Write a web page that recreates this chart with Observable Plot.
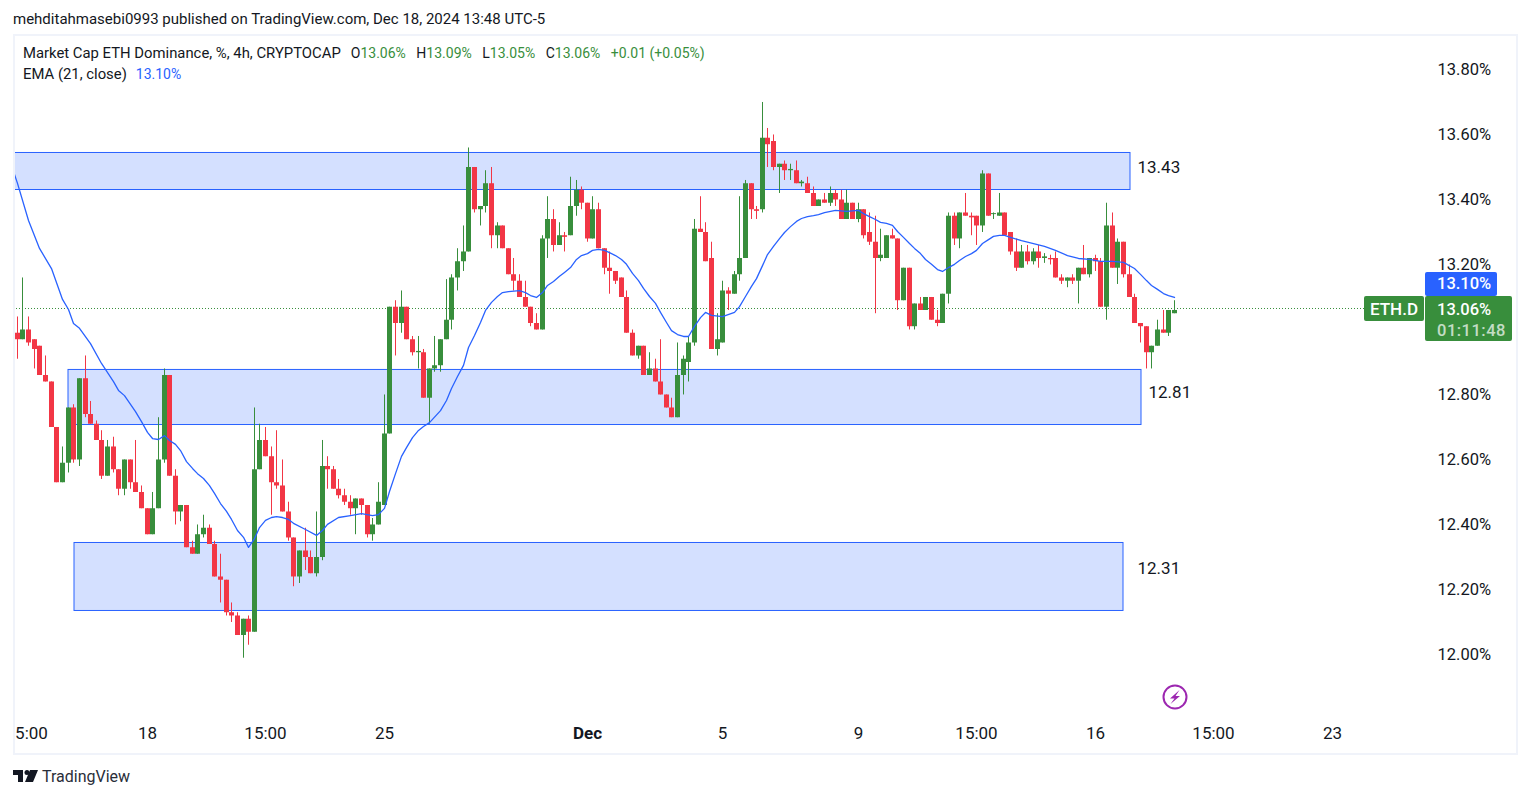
<!DOCTYPE html>
<html><head><meta charset="utf-8">
<script src="https://cdn.jsdelivr.net/npm/d3@7"></script>
<script src="https://cdn.jsdelivr.net/npm/@observablehq/plot@0.6"></script>
<style>
html,body{margin:0;padding:0;background:#fff;width:1529px;height:798px;overflow:hidden;font-family:Roboto,sans-serif;color:#131722}
.abs{position:absolute;white-space:nowrap}
#frame{left:13px;top:34px;width:1501px;height:717px;border:2px solid #f0f3fa;pointer-events:none}
.g{color:#388e3c;font-size:14px}.b{color:#2962ff;font-size:14px}.v{font-size:14px}
.o{margin-left:10.5px}
.tag{position:absolute;color:#fff;font-size:16.5px;box-sizing:border-box;text-align:center;border-radius:2px}
</style></head><body>
<div id="chart" class="abs" style="left:0;top:0"></div>
<div id="frame" class="abs"></div>
<div class="abs" style="left:13px;top:10px;font-size:15px;line-height:18px">mehditahmasebi0993 published on TradingView.com, Dec 18, 2024 13:48 UTC-5</div>
<div class="abs" style="left:23px;top:44px;font-size:14.85px;line-height:18px">Market Cap ETH Dominance, %, 4h, CRYPTOCAP<span class="v" style="margin-left:10px">O</span><span class="g">13.06%</span><span class="v o">H</span><span class="g">13.09%</span><span class="v o">L</span><span class="g">13.05%</span><span class="v o">C</span><span class="g">13.06%</span><span class="g o">+0.01 (+0.05%)</span></div>
<div class="abs" style="left:23px;top:65px;font-size:14.85px;line-height:18px">EMA (21, close)<span class="b" style="margin-left:9px">13.10%</span></div>
<div class="tag" style="left:1425px;top:272px;width:72px;height:24px;line-height:24px;background:#2962ff;font-weight:500;text-align:left;padding-left:12px">13.10%</div>
<div class="tag" style="left:1364px;top:296px;width:60px;height:25px;line-height:26px;background:#388e3c;font-weight:500;font-size:17px">ETH.D</div>
<div class="tag" style="left:1425px;top:296px;width:87px;height:45px;background:#388e3c;text-align:left;padding:3px 0 0 12px;line-height:21px;font-weight:500">13.06%<br><span style="opacity:.7;letter-spacing:.5px">01:11:48</span></div>
<svg class="abs" style="left:1162px;top:684px" width="26" height="26" viewBox="0 0 26 26"><circle cx="13" cy="13" r="11.5" fill="none" stroke="#9c27b0" stroke-width="2"/><path d="M17.5 6 L8 14.5 H12.5 L8.5 20 L18 12 H13.5 Z" fill="#9c27b0"/></svg>
<svg class="abs" style="left:13px;top:770px" width="25" height="12" viewBox="0 0 25 12"><path d="M0 0H10V12H5V5H0Z M12 12L17 0H25L20 12Z" fill="#131722"/><circle cx="14" cy="2.6" r="2.5" fill="#131722"/></svg>
<div class="abs" style="left:42px;top:768px;font-size:16px;line-height:18px;color:#2a2e39">TradingView</div>
<script>
const opens=[12.99,12.97,13.00,12.97,12.95,12.86,12.84,12.70,12.53,12.59,
12.76,12.60,12.85,12.74,12.71,12.66,12.55,12.64,12.57,12.51,
12.60,12.53,12.50,12.45,12.37,12.45,12.60,12.86,12.55,12.44,
12.46,12.33,12.31,12.37,12.39,12.34,12.24,12.23,12.13,12.12,
12.06,12.11,12.07,12.57,12.66,12.61,12.53,12.52,12.44,12.36,
12.24,12.32,12.30,12.25,12.30,12.58,12.57,12.51,12.49,12.47,
12.45,12.48,12.46,12.37,12.40,12.46,12.68,13.07,13.02,13.07,
12.97,12.93,12.93,12.79,12.88,12.89,12.97,13.03,13.16,13.21,
13.24,13.50,13.37,13.38,13.45,13.29,13.32,13.25,13.17,13.15,
13.10,13.07,13.02,13.00,13.28,13.34,13.26,13.29,13.29,13.38,
13.43,13.39,13.28,13.37,13.25,13.19,13.18,13.16,13.10,12.99,
12.92,12.95,12.86,12.88,12.84,12.80,12.76,12.73,12.86,12.90,
12.96,13.31,13.30,13.22,12.94,12.96,13.12,13.11,13.17,13.22,
13.45,13.37,13.37,13.59,13.58,13.50,13.51,13.49,13.49,13.45,
13.45,13.42,13.38,13.40,13.39,13.42,13.40,13.34,13.39,13.34,
13.37,13.30,13.27,13.22,13.22,13.29,13.28,13.09,13.19,13.01,
13.08,13.06,13.10,13.03,13.02,13.11,13.35,13.28,13.36,13.35,
13.35,13.32,13.48,13.355,13.35,13.36,13.30,13.24,13.19,13.24,
13.21,13.24,13.22,13.22,13.22,13.16,13.15,13.16,13.15,13.19,
13.17,13.22,13.21,13.07,13.32,13.19,13.27,13.17,13.10,13.02,
13.01,12.93,12.95,13.00,12.99,13.05];
const closes=[12.97,13.00,12.96,12.94,12.86,12.84,12.70,12.53,12.59,12.76,
12.60,12.85,12.74,12.71,12.66,12.55,12.64,12.57,12.51,12.60,
12.53,12.50,12.45,12.37,12.45,12.60,12.86,12.55,12.44,12.46,
12.33,12.31,12.37,12.39,12.34,12.24,12.23,12.13,12.12,12.06,
12.11,12.07,12.57,12.66,12.61,12.53,12.52,12.44,12.36,12.24,
12.32,12.30,12.25,12.30,12.58,12.57,12.51,12.49,12.47,12.45,
12.48,12.46,12.37,12.40,12.47,12.68,13.07,13.02,13.07,12.97,
12.93,12.934,12.79,12.88,12.89,12.97,13.03,13.16,13.21,13.24,
13.50,13.37,13.38,13.45,13.29,13.32,13.25,13.17,13.15,13.10,
13.07,13.02,13.00,13.28,13.34,13.26,13.29,13.285,13.38,13.43,
13.39,13.28,13.37,13.25,13.19,13.18,13.15,13.10,12.99,12.92,
12.95,12.86,12.88,12.84,12.80,12.76,12.73,12.86,12.91,12.96,
13.31,13.30,13.21,12.94,12.97,13.12,13.11,13.17,13.22,13.45,
13.37,13.365,13.59,13.57,13.50,13.51,13.49,13.494,13.45,13.455,
13.42,13.38,13.40,13.39,13.42,13.40,13.34,13.39,13.34,13.37,
13.29,13.27,13.22,13.23,13.29,13.28,13.09,13.19,13.01,13.08,
13.06,13.10,13.03,13.02,13.11,13.35,13.28,13.36,13.35,13.345,
13.32,13.48,13.35,13.358,13.36,13.29,13.24,13.19,13.24,13.21,
13.24,13.22,13.225,13.216,13.16,13.15,13.16,13.15,13.19,13.17,
13.22,13.21,13.07,13.32,13.19,13.27,13.17,13.10,13.02,13.01,
12.93,12.95,13.00,12.99,13.06,13.06];
const highs=[13.04,13.16,13.04,12.97,12.95,12.92,12.84,12.70,12.64,12.76,
12.77,12.85,12.92,12.78,12.72,12.69,12.66,12.67,12.57,12.60,
12.60,12.66,12.52,12.45,12.50,12.73,12.88,12.86,12.57,12.46,
12.46,12.35,12.40,12.43,12.40,12.35,12.31,12.23,12.16,12.13,
12.11,12.12,12.76,12.71,12.70,12.64,12.69,12.60,12.47,12.36,
12.32,12.39,12.32,12.44,12.66,12.61,12.58,12.54,12.51,12.49,
12.48,12.48,12.46,12.42,12.53,12.80,13.07,13.09,13.12,13.07,
12.98,12.98,12.94,12.88,12.98,12.97,13.155,13.17,13.25,13.32,
13.56,13.50,13.38,13.49,13.50,13.33,13.32,13.25,13.22,13.17,
13.15,13.07,13.05,13.29,13.41,13.37,13.33,13.30,13.47,13.46,
13.44,13.39,13.41,13.39,13.25,13.24,13.18,13.16,13.12,13.00,
12.95,12.95,12.93,12.91,12.97,12.80,12.79,12.96,12.92,12.98,
13.34,13.41,13.33,13.27,13.05,13.15,13.13,13.18,13.41,13.46,
13.45,13.38,13.70,13.62,13.60,13.51,13.52,13.51,13.52,13.46,
13.47,13.44,13.40,13.42,13.44,13.43,13.43,13.43,13.39,13.39,
13.37,13.36,13.35,13.31,13.29,13.31,13.28,13.19,13.19,13.08,
13.10,13.10,13.10,13.06,13.11,13.36,13.36,13.36,13.42,13.36,
13.35,13.49,13.48,13.36,13.42,13.36,13.30,13.28,13.26,13.26,
13.25,13.26,13.235,13.23,13.24,13.17,13.16,13.17,13.19,13.26,
13.22,13.23,13.22,13.39,13.36,13.28,13.27,13.20,13.11,13.02,
13.01,12.95,13.03,13.06,13.06,13.09];
const lows=[12.91,12.97,12.95,12.88,12.86,12.84,12.70,12.53,12.53,12.56,
12.59,12.58,12.73,12.71,12.66,12.54,12.55,12.56,12.49,12.49,
12.51,12.50,12.45,12.37,12.37,12.45,12.59,12.55,12.40,12.41,
12.33,12.31,12.31,12.36,12.34,12.24,12.16,12.12,12.10,12.06,
11.99,12.03,12.07,12.57,12.61,12.43,12.51,12.44,12.35,12.21,
12.22,12.26,12.25,12.24,12.29,12.51,12.51,12.48,12.46,12.43,
12.37,12.43,12.36,12.35,12.40,12.46,12.68,12.92,12.99,12.97,
12.92,12.88,12.79,12.71,12.87,12.87,12.97,13.00,13.12,13.18,
13.24,13.36,13.32,13.36,13.25,13.25,13.25,13.17,13.12,13.10,
13.07,13.01,13.00,13.00,13.22,13.24,13.26,13.24,13.29,13.35,
13.37,13.27,13.28,13.25,13.17,13.11,13.14,13.10,12.99,12.92,
12.91,12.86,12.86,12.84,12.80,12.76,12.73,12.73,12.80,12.84,
12.95,13.30,13.21,12.94,12.92,12.96,13.06,13.11,13.15,13.22,
13.34,13.34,13.36,13.50,13.49,13.42,13.46,13.46,13.45,13.44,
13.42,13.38,13.38,13.39,13.38,13.38,13.34,13.34,13.34,13.33,
13.28,13.26,13.05,13.21,13.22,13.28,13.06,13.09,13.00,13.00,
13.06,13.06,13.03,13.01,13.02,13.08,13.26,13.25,13.35,13.29,
13.26,13.30,13.35,13.34,13.35,13.29,13.23,13.18,13.19,13.20,
13.20,13.19,13.205,13.20,13.16,13.14,13.13,13.14,13.08,13.17,
13.16,13.18,13.07,13.03,13.19,13.14,13.16,13.10,13.02,12.96,
12.88,12.88,12.95,12.99,12.98,13.05];
const emaIdx=[-1,0,2,4,6,8,9,10,11,13,15,17,18,19,21,22,23,24,25,26,27,28,29,30,31,32,33,34,35,36,37,38,39,40,41,42,43,44,45,46,47,48,49,51,53,54,55,57,59,61,63,64,65,66,67,68,69,70,71,72,73,75,76,77,78,79,80,81,82,83,84,85,86,87,89,90,91,92,93,94,95,96,97,98,99,100,101,102,103,104,105,106,107,108,109,110,111,112,113,114,115,116,117,118,119,120,121,122,123,125,127,128,129,130,131,132,133,134,135,136,137,138,139,140,141,142,143,145,147,149,150,151,152,153,154,155,156,157,158,159,160,161,162,163,164,165,166,167,168,169,170,171,172,173,174,175,176,178,180,182,184,186,188,190,192,194,196,198,199,200,201,202,203,204,205];
const emaVal=[13.506,13.451,13.337,13.251,13.189,13.094,13.063,13.020,13.005,12.958,12.897,12.841,12.814,12.798,12.749,12.718,12.685,12.666,12.663,12.675,12.660,12.648,12.629,12.595,12.574,12.558,12.543,12.521,12.497,12.466,12.442,12.417,12.383,12.362,12.331,12.358,12.392,12.414,12.423,12.426,12.423,12.417,12.405,12.386,12.368,12.383,12.402,12.423,12.429,12.435,12.429,12.432,12.451,12.503,12.558,12.611,12.638,12.669,12.691,12.703,12.715,12.752,12.783,12.820,12.857,12.891,12.946,12.983,13.023,13.060,13.085,13.103,13.115,13.118,13.121,13.115,13.106,13.100,13.115,13.137,13.149,13.165,13.177,13.192,13.217,13.229,13.235,13.245,13.248,13.245,13.238,13.229,13.217,13.202,13.174,13.152,13.128,13.103,13.082,13.054,13.023,12.998,12.986,12.980,12.980,13.011,13.038,13.054,13.045,13.041,13.054,13.072,13.103,13.134,13.158,13.198,13.232,13.257,13.281,13.300,13.318,13.334,13.343,13.349,13.352,13.355,13.361,13.368,13.365,13.368,13.358,13.349,13.340,13.331,13.328,13.322,13.303,13.285,13.266,13.251,13.235,13.217,13.202,13.186,13.180,13.192,13.202,13.214,13.226,13.235,13.245,13.266,13.278,13.288,13.291,13.291,13.285,13.275,13.266,13.257,13.245,13.229,13.220,13.217,13.211,13.211,13.208,13.189,13.171,13.152,13.137,13.125,13.112,13.106,13.100];
const zoneFrom=[-3,9,10.05];
const zoneTo=[197.2,199.1,196.05];
const zoneTop=[13.5446,12.877,12.3446];
const zoneBottom=[13.4307,12.7076,12.1354];
const zoneText=["13.43","12.81","12.31"];
const zoneTextAt=[198.5,200.5,198.5];
const zoneTextY=[13.50,12.808,12.266];
const priceTicks=[12.0,12.2,12.4,12.6,12.8,13.2,13.4,13.6,13.8];
const timeTicks=[2.6,23,44,65,125,149,170,191,212,233];
const timeLabels=["5:00","18","15:00","25","5","9","15:00","16","15:00","23"];
const monthTicks=[101];
const monthLabels=["Dec"];
const lastPrice=13.0661;

const GREEN="#388e3c",RED="#f23645",BLUE="#2962ff",FONT="Roboto,sans-serif";
const candles=opens.map((o,i)=>({i,o,c:closes[i],h:highs[i],l:lows[i],col:closes[i]>=o?GREEN:RED}));
const ema=emaIdx.map((i,k)=>({i,v:emaVal[k]}));
const zones=zoneFrom.map((a,k)=>({a,b:zoneTo[k],t:zoneTop[k],bo:zoneBottom[k],s:zoneText[k],tx:zoneTextAt[k],ty:zoneTextY[k]}));
const times=timeTicks.map((t,k)=>({t,s:timeLabels[k]}));
const months=monthTicks.map((t,k)=>({t,s:monthLabels[k]}));

const plot=Plot.plot({
  width:1529,height:798,marginLeft:13,marginRight:105,marginTop:36,marginBottom:83,
  style:{fontFamily:FONT,background:"transparent",color:"#131722",overflow:"visible"},
  x:{type:"linear",domain:[-0.67,249.33],round:true,axis:null},
  y:{type:"linear",domain:[11.8138,13.903],axis:null},
  marks:[
    Plot.rect(zones,{x1:"a",x2:"b",y1:"bo",y2:"t",fill:BLUE,fillOpacity:0.2,stroke:BLUE,strokeWidth:1,clip:true}),
    Plot.ruleY([lastPrice],{x1:-0.66,x2:238.8,stroke:GREEN,strokeWidth:1,strokeDasharray:"1 2"}),
    Plot.ruleX(candles,{x:"i",y1:"l",y2:"h",stroke:"col",strokeWidth:1}),
    Plot.ruleX(candles,{x:"i",y1:"o",y2:"c",stroke:"col",strokeWidth:5}),
    Plot.line(ema,{x:"i",y:"v",stroke:BLUE,strokeWidth:1.3,curve:"linear",clip:true}),
    Plot.text(zones,{x:"tx",y:"ty",text:"s",textAnchor:"start",fontSize:17,fill:"#131722"}),
    Plot.axisY(priceTicks,{anchor:"right",tickSize:0,tickPadding:13,tickFormat:d=>d.toFixed(2)+"%",fontSize:16.5,fill:"#131722",label:null}),
    Plot.text(times,{x:"t",text:"s",frameAnchor:"bottom",lineAnchor:"middle",dy:18,fontSize:17,fill:"#131722"}),
    Plot.text(months,{x:"t",text:"s",frameAnchor:"bottom",lineAnchor:"middle",dy:18,fontSize:17,fontWeight:700,fill:"#131722"})
  ]
});
document.getElementById("chart").appendChild(plot);
</script>
</body></html>
